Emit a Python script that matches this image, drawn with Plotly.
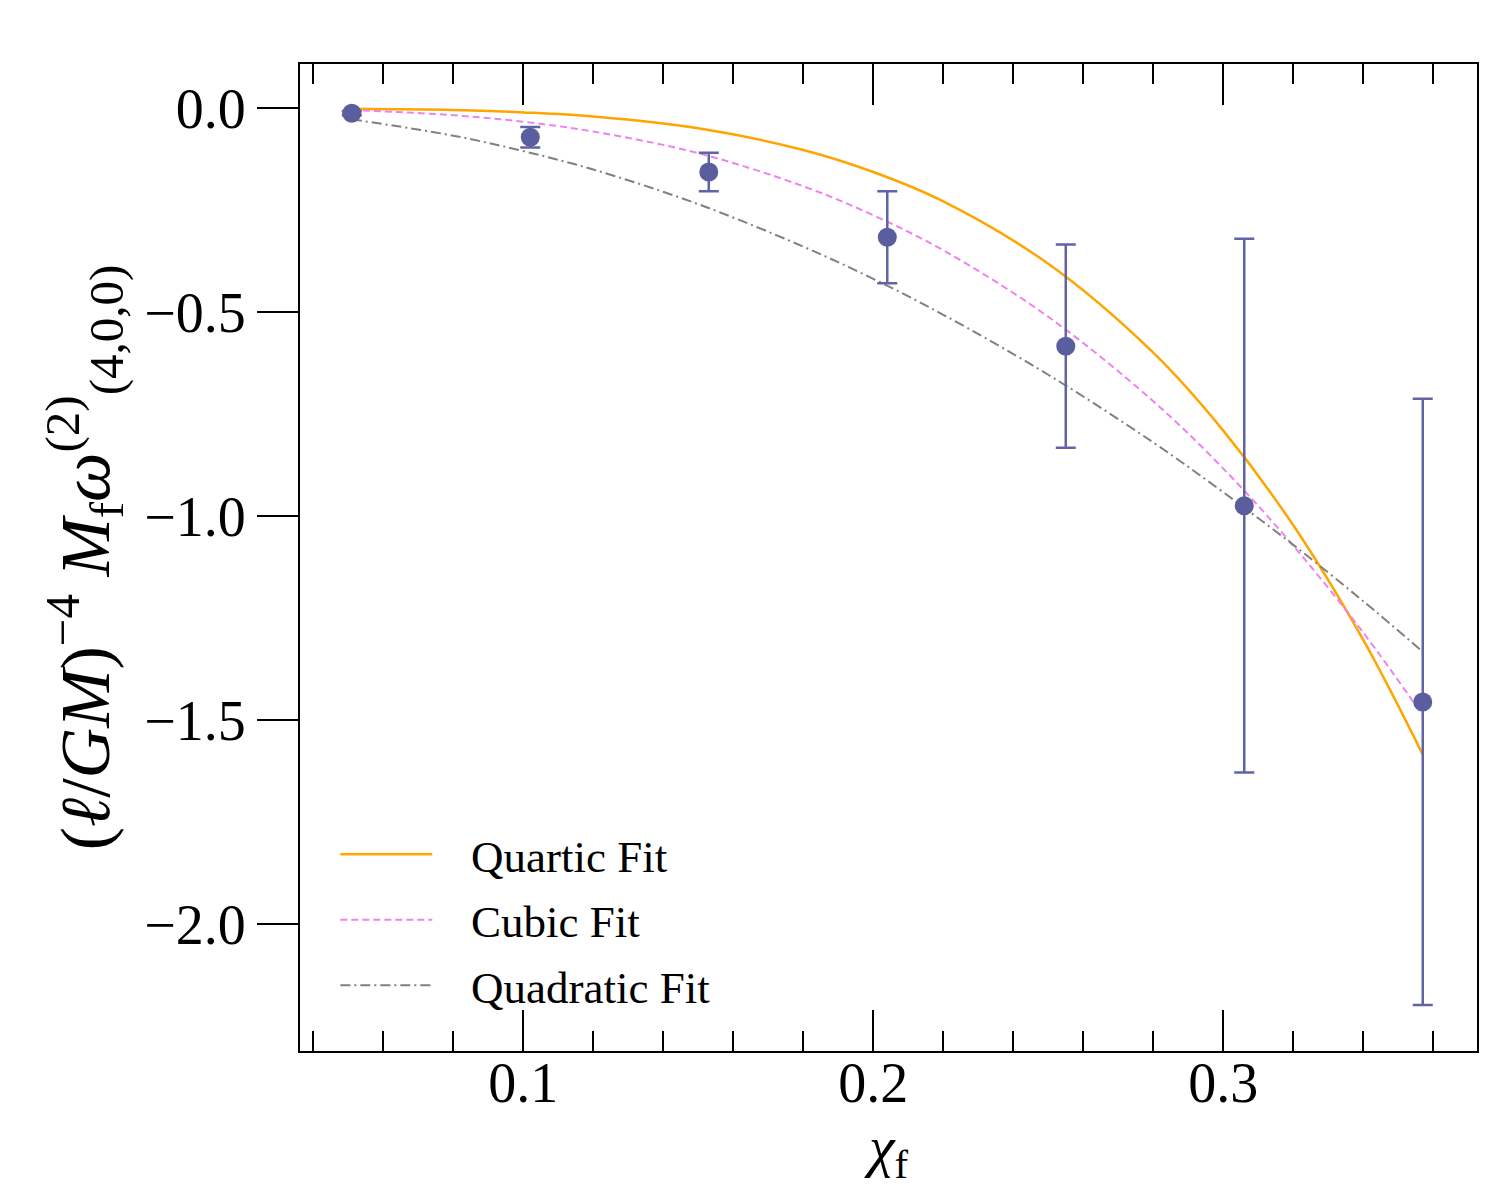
import plotly.graph_objects as go

# Data points
chi = [0.051, 0.102, 0.153, 0.204, 0.255, 0.306, 0.357]
omega = [-0.012, -0.071, -0.156, -0.316, -0.583, -0.974, -1.455]
omega_err = [0.005, 0.025, 0.047, 0.113, 0.249, 0.654, 0.743]

# Fit curves
fit_x = [0.051, 0.08, 0.10, 0.12, 0.15, 0.18, 0.20, 0.22, 0.25, 0.28, 0.30, 0.32, 0.34, 0.357]
quartic_y = [-0.001, -0.004, -0.010, -0.020, -0.049, -0.102, -0.156, -0.228, -0.381, -0.599, -0.790, -1.022, -1.303, -1.584]
cubic_y = [-0.004, -0.017, -0.033, -0.057, -0.110, -0.191, -0.262, -0.348, -0.511, -0.718, -0.883, -1.072, -1.285, -1.488]
quadratic_y = [-0.027, -0.067, -0.105, -0.150, -0.235, -0.339, -0.418, -0.506, -0.653, -0.819, -0.941, -1.070, -1.208, -1.332]

FONT = "Liberation Serif"
PT = "#5a5d9e"
PAD = "&nbsp;&nbsp;&nbsp;"

fig = go.Figure()
fig.add_trace(go.Scatter(x=fit_x, y=quartic_y, mode="lines", line=dict(color="#FFA500", width=2.5, shape="spline"),
                         name=PAD + "Quartic Fit", legendgroup="a"))
fig.add_trace(go.Scatter(x=fit_x, y=cubic_y, mode="lines", line=dict(color="#EE82EE", width=2, dash="7px,4px", shape="spline"),
                         name=PAD + "Cubic Fit", legendgroup="b"))
fig.add_trace(go.Scatter(x=fit_x, y=quadratic_y, mode="lines", line=dict(color="#808080", width=2, dash="10px,4px,2px,4px", shape="spline"),
                         name=PAD + "Quadratic Fit", legendgroup="c"))
fig.add_trace(go.Scatter(x=chi, y=omega, mode="markers",
                         marker=dict(color=PT, size=19),
                         error_y=dict(type="data", array=omega_err, color="#6063a6", thickness=2.5, width=10),
                         showlegend=False))

fig.update_layout(
    width=1500, height=1200,
    margin=dict(l=300, r=23, t=64, b=149),
    paper_bgcolor="white", plot_bgcolor="white",
    font=dict(family=FONT, color="black", size=56),
    legend=dict(x=0.03, y=0.03, xanchor="left", yanchor="bottom", bgcolor="rgba(0,0,0,0)",
                font=dict(family=FONT, size=45, color="black"), itemwidth=92, tracegroupgap=4),
    showlegend=True,
)
fig.update_xaxes(
    range=[0.0362, 0.3725], dtick=0.1, tick0=0, tickformat=".1f",
    ticks="inside", ticklen=41, tickwidth=2, tickcolor="black",
    minor=dict(dtick=0.02, tick0=0, ticks="inside", ticklen=20, tickwidth=1.5, tickcolor="black"),
    showline=True, linecolor="black", linewidth=2, mirror="allticks",
    showgrid=False, zeroline=False,
    tickfont=dict(family=FONT, size=56), ticklabelstandoff=-18,
    title=dict(text="<i>χ</i><sub>f</sub>", font=dict(family=FONT, size=58), standoff=0),
)
fig.update_yaxes(
    range=[-2.3105, 0.1086], dtick=0.5, tick0=0, tickformat=".1f",
    ticks="outside", ticklen=41, tickwidth=2, tickcolor="black",
    showline=True, linecolor="black", linewidth=2, mirror=True,
    showgrid=False, zeroline=False,
    tickfont=dict(family=FONT, size=56),
    title=dict(text="(<i>ℓ</i>/<i>GM</i>)<sup>−4</sup> <i>M</i><sub>f</sub><i>ω</i><sup>(2)</sup><sub>(4,0,0)</sub>",
               font=dict(family=FONT, size=70), standoff=12),
)

fig.write_html("out.html")
